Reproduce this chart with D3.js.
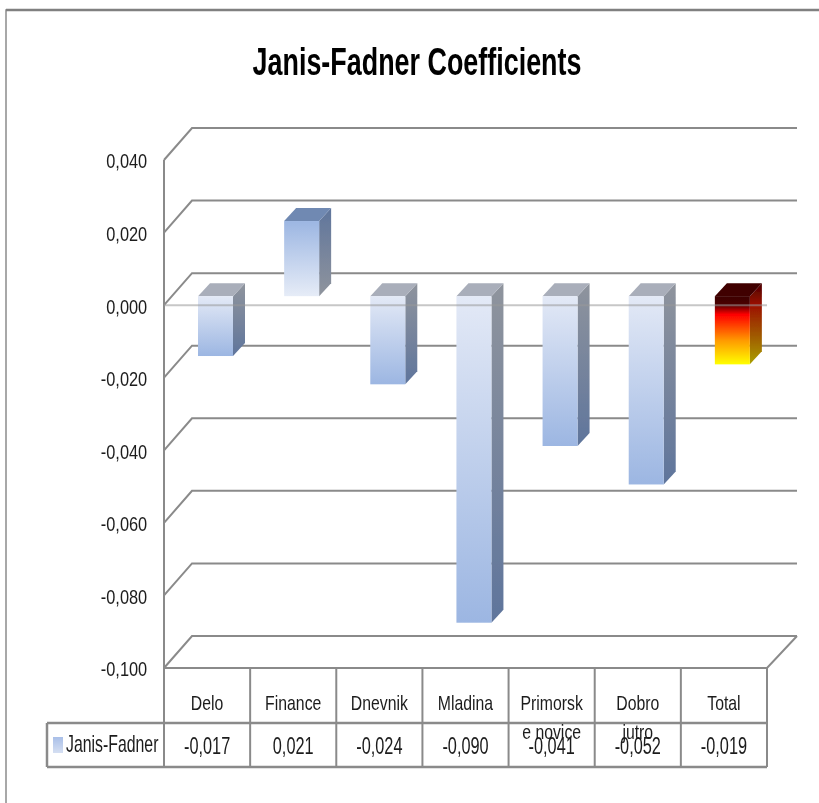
<!DOCTYPE html>
<html>
<head>
<meta charset="utf-8">
<script src="https://cdn.jsdelivr.net/npm/d3@7"></script>
<style>
  body { margin: 0; background: #fff; }
  text { font-family: "Liberation Sans", sans-serif; fill: #1c1c1c; }
</style>
</head>
<body>
<div id="chart"></div>
<script>
const categories = ["Delo", "Finance", "Dnevnik", "Mladina", "Primorske novice", "Dobro jutro", "Total"];
const labelLines = [["Delo"], ["Finance"], ["Dnevnik"], ["Mladina"], ["Primorsk", "e novice"], ["Dobro", "jutro"], ["Total"]];
// bar heights, the table prints rounded ones
const barValues = [-0.0165, 0.0207, -0.0243, -0.09, -0.0413, -0.0519, -0.0188];
const tableValues = [-0.017, 0.021, -0.024, -0.09, -0.041, -0.052, -0.019];
const yTicks = [0.04, 0.02, 0, -0.02, -0.04, -0.06, -0.08, -0.1];
const seriesName = "Janis-Fadner";
const title = "Janis-Fadner Coefficients";

const width = 819;
const height = 803;
const grid = "#8a8a8a";
const depthX = 28, depthY = 32;      // wall depth
const wallRight = 797;
const barDepthX = 12, barDepthY = 13;
const barInsetY = 9;                 // bars stand a little behind the front plane
const barW = 35;

const fmt = d3.formatLocale({ decimal: ",", thousands: ".", grouping: [3], currency: ["", ""], minus: "-" }).format(".3f");

const svg = d3.select("#chart").append("svg").attr("width", width).attr("height", height).style("display", "block");

const x = d3.scaleBand().domain(categories).range([164, 767]);
const y = d3.scaleLinear().domain([0.04, -0.1]).range([160, 668]);

// gradients
const defs = svg.append("defs");
function gradient(id, stops) {
  const g = defs.append("linearGradient").attr("id", id).attr("x1", 0).attr("y1", 0).attr("x2", 0).attr("y2", 1);
  stops.forEach(([o, c]) => g.append("stop").attr("offset", o).attr("stop-color", c));
}
gradient("negFront", [[0, "#e3e9f6"], [1, "#9cb6e2"]]);
gradient("posFront", [[0, "#9cb6e2"], [1, "#e6ecf7"]]);
gradient("negSide", [[0, "#8f949d"], [1, "#5f759c"]]);
gradient("posSide", [[0, "#5f759c"], [1, "#8f949d"]]);
gradient("totalFront", [[0, "#3c0000"], [0.12, "#4a0000"], [0.27, "#ff0000"], [0.65, "#ff9a00"], [1, "#ffff00"]]);
gradient("totalSide", [[0, "#4a0000"], [0.27, "#9c1000"], [0.65, "#a05a00"], [1, "#aaa000"]]);
gradient("legendKey", [[0, "#a9bfe8"], [1, "#d5dff2"]]);
defs.append("filter").attr("id", "soft").append("feGaussianBlur").attr("stdDeviation", 0.45);

const root = svg.append("g").attr("filter", "url(#soft)");

// frame of the pasted picture
root.append("path").attr("d", `M6,${height}V10H${width}`).attr("fill", "none").attr("stroke", "#8c8c8c").attr("stroke-width", 1.5);
root.append("line").attr("x1", 6).attr("x2", width).attr("y1", 10).attr("y2", 10).attr("stroke", "#808080").attr("stroke-width", 2.5);

// title
root.append("text").text(title)
  .attr("transform", "translate(417,75) scale(0.69,1)")
  .attr("text-anchor", "middle").attr("font-weight", "bold").attr("font-size", 39).style("fill", "#000");

// back wall, side wall, floor
const wall = root.append("g").attr("fill", "none").attr("stroke", grid).attr("stroke-width", 2);
wall.selectAll(".back").data(yTicks).enter().append("path")
  .attr("d", (d) => `M164,${y(d)}L${164 + depthX},${y(d) - depthY}H${wallRight}`);
wall.append("path").attr("d", `M164,${y(0.04)}V${y(-0.1)}H767L${wallRight},${y(-0.1) - depthY}`);

// bars
const bars = root.selectAll(".bar").data(categories).enter().append("g").attr("class", "bar");
const left = (i) => x(categories[i]) + 34;
const y0 = (d) => y(d) - barInsetY;
const style = (i) => (categories[i] === "Total" ? "total" : barValues[i] >= 0 ? "pos" : "neg");

bars.append("path") // side
  .attr("d", (d, i) => {
    const r = left(i) + barW, t = y0(Math.max(0, barValues[i])), b = y0(Math.min(0, barValues[i]));
    return `M${r},${t}l${barDepthX},${-barDepthY}V${b - barDepthY}l${-barDepthX},${barDepthY}Z`;
  })
  .attr("fill", (d, i) => `url(#${style(i)}Side)`);
bars.append("path") // top
  .attr("d", (d, i) => {
    const t = y0(Math.max(0, barValues[i]));
    return `M${left(i)},${t}l${barDepthX},${-barDepthY}h${barW}l${-barDepthX},${barDepthY}Z`;
  })
  .attr("fill", (d, i) => ({ neg: "#a9aeba", pos: "#7089b2", total: "#3f0000" }[style(i)]));
bars.append("rect") // front
  .attr("x", (d, i) => left(i))
  .attr("y", (d, i) => y0(Math.max(0, barValues[i])))
  .attr("width", barW)
  .attr("height", (d, i) => Math.abs(y(barValues[i]) - y(0)))
  .attr("fill", (d, i) => `url(#${style(i)}Front)`);

// zero plane is drawn over the bars
root.append("line").attr("x1", 164).attr("x2", 767).attr("y1", y(0)).attr("y2", y(0))
  .attr("stroke", "#999").attr("stroke-opacity", 0.55).attr("stroke-width", 2);

// y axis labels, squeezed like the stretched original
const axis = root.append("g").attr("transform", "translate(155,0) scale(0.78,1)")
  .call(d3.axisLeft(y).tickValues(yTicks).tickFormat(fmt).tickSize(0).tickPadding(10));
axis.select(".domain").remove();
axis.selectAll("text").attr("font-size", 21).attr("font-family", null).attr("dy", "0.38em");

// data table
const rowTop = 668, rowMid = 723, rowBottom = 767, tableLeft = 47;
const table = root.append("g").attr("fill", "none").attr("stroke", grid);
table.append("path").attr("stroke-width", 2.5)
  .attr("d", `M${tableLeft},${rowMid}H767M${tableLeft},${rowBottom}H767M${tableLeft},${rowMid}V${rowBottom}`);
table.selectAll(".col").data(categories).enter().append("line").attr("stroke-width", 2)
  .attr("x1", (d) => x(d) + x.bandwidth()).attr("x2", (d) => x(d) + x.bandwidth())
  .attr("y1", rowTop).attr("y2", rowBottom);
table.append("line").attr("stroke-width", 2).attr("x1", 164).attr("x2", 164).attr("y1", rowTop).attr("y2", rowBottom);

labelLines.forEach((lines, i) => {
  const cx = x(categories[i]) + x.bandwidth() / 2;
  lines.forEach((t, j) => {
    root.append("text").text(t)
      .attr("transform", `translate(${cx},${710 + j * 29}) scale(0.79,1)`)
      .attr("text-anchor", "middle").attr("font-size", 20);
  });
  root.append("text").text(fmt(tableValues[i]))
    .attr("transform", `translate(${cx},754) scale(0.68,1)`)
    .attr("text-anchor", "middle").attr("font-size", 24);
});

// legend key
root.append("rect").attr("x", 53).attr("y", 737).attr("width", 10).attr("height", 16).attr("fill", "url(#legendKey)");
root.append("text").text(seriesName)
  .attr("transform", "translate(66,752) scale(0.66,1)")
  .attr("font-size", 24);
</script>
</body>
</html>
